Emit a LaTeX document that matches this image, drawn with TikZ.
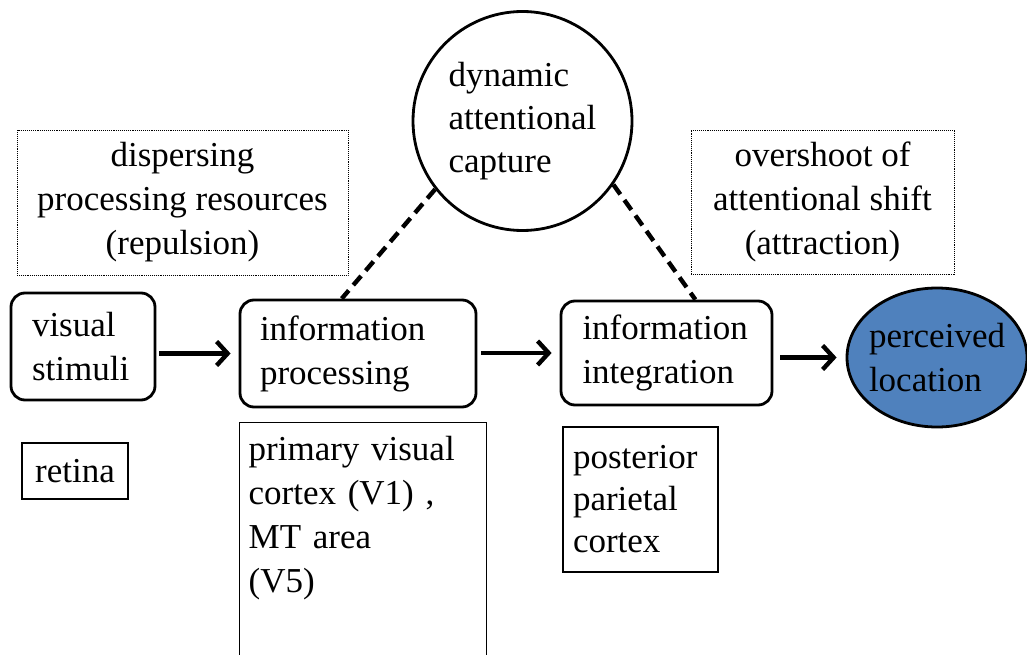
\documentclass[tikz,border=0pt]{standalone}
\usepackage{fontspec}
\setmainfont{Liberation Serif}
\usetikzlibrary{arrows.meta,shapes.geometric,calc}
\definecolor{pblue}{RGB}{79,129,189}
\begin{document}
\begin{tikzpicture}[x=1pt,y=-1pt,
  txt/.style={font=\fontsize{35}{44}\selectfont},
  rbox/.style={txt,draw,rounded corners=14pt,line width=2.8pt,align=left,inner ysep=0pt},
  dbox/.style={txt,draw,densely dotted,line width=0.9pt,align=center},
  pbox/.style={txt,draw,line width=1.3pt,align=left},
  arr/.style={line width=4.4pt,-{Straight Barb[length=11pt,width=24pt,line width=4.4pt]}},
  dline/.style={line width=4.4pt,dash pattern=on 12pt off 7pt}
]
\useasboundingbox (0,0) rectangle (1027,655);
\clip (0,0) rectangle (1027,655);

\node[dbox, minimum width=331pt, minimum height=145pt] (disp) at (182.5,202.5) {dispersing\\processing resources\\(repulsion)};
\node[dbox, minimum width=263pt, minimum height=144pt] (over) at (822.5,202) {overshoot of\\attentional shift\\(attraction)};

\node[txt, circle, draw, line width=2.8pt, minimum size=219pt, inner sep=0pt, align=left, font=\fontsize{35}{43}\selectfont] (cap) at (522.5,121) {dynamic\\attentional\\capture};

\node[rbox, text width=102pt, inner xsep=21pt, minimum height=107pt] (vis) at (83,346.5) {visual\\stimuli};
\node[rbox, text width=196pt, inner xsep=20pt, minimum height=107pt] (proc) at (358,353.5) {information\\processing};
\node[rbox, text width=168pt, inner xsep=21.5pt, minimum height=104pt] (integ) at (666.5,353) {information\\integration};
\node[ellipse, draw, fill=pblue, line width=2.8pt, minimum width=180pt, minimum height=139pt, inner sep=0pt] (perc) at (937,357.5) {};
\node[txt, align=left] (percl) at (perc.center) {perceived\\location};

\node[txt, draw, line width=1.3pt, minimum width=106pt, minimum height=56pt] (ret) at (75,471) {retina};
\node[pbox, anchor=north west, text width=229pt, inner xsep=9pt, inner ysep=14pt, text depth=226pt] (prim) at (239,422) {primary visual\\cortex (V1) ,\\MT area\\(V5)};
\node[pbox, font=\fontsize{35}{42}\selectfont, text width=135pt, inner xsep=10pt, minimum width=155pt, minimum height=145pt] (post) at (640.5,499.5) {posterior\\parietal\\cortex};

\draw[arr, shorten <=3pt, shorten >=8pt] (vis.east |- proc.west) -- (proc.west);
\draw[arr, shorten <=4pt, shorten >=8pt] (proc.east |- integ.west) -- (integ.west);
\draw[arr, shorten <=7pt, shorten >=9pt] (integ.east |- perc.west) -- (perc.west);

\draw[dline] (cap.218) -- ($(proc.north west)!0.432!(proc.north east)$);
\draw[dline] (cap.325) -- ($(integ.north west)!0.635!(integ.north east)$);
\end{tikzpicture}
\end{document}
